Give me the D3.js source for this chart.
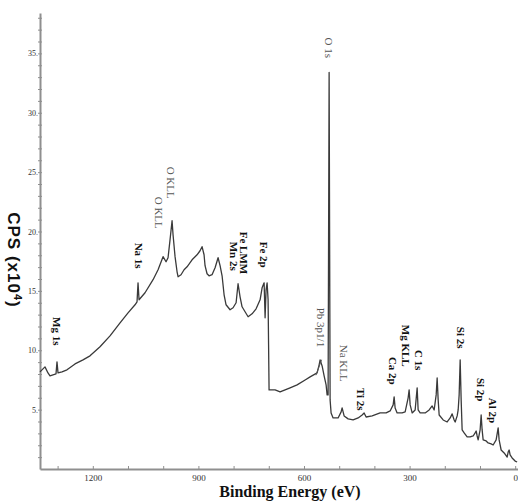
<!DOCTYPE html>
<html>
<head>
<meta charset="utf-8">
<script src="https://cdn.jsdelivr.net/npm/d3@7"></script>
<style>
  body { margin: 0; background: #fff; }
  svg { display: block; }
</style>
</head>
<body>
<script>
// XPS survey spectrum (CPS in units of 10^4)
const energy = [1350, 1341.5, 1335.8, 1327.3, 1321.6, 1313.1, 1304.5, 1301.7, 1298.8, 1287.5,
  1273.3, 1250.5, 1227.8, 1207.9, 1179.5, 1151.1, 1122.6, 1099.9, 1080, 1074.3,
  1071.5, 1068.6, 1051.6, 1028.8, 1014.6, 1000.4, 991.9, 986.2, 980.5, 974.8,
  972, 966.3, 960.6, 957.8, 949.3, 940.7, 932.2, 918, 903.8, 895.3,
  889.6, 883.9, 881.1, 875.4, 869.7, 861.2, 852.6, 844.1, 838.4, 832.7,
  827, 821.4, 810, 801.5, 792.9, 787.3, 781.6, 775.9, 767.4, 758.8,
  747.5, 736.1, 724.7, 719, 713.3, 710.5, 707.7, 704.8, 702, 700.6,
  699.2, 682.1, 667.9, 639.5, 619.6, 596.8, 582.6, 562.7, 557, 554.2,
  548.5, 542.8, 537.2, 534.3, 531.5, 528.6, 525.8, 523, 517.3, 503.1,
  494.5, 491.7, 486, 474.6, 460.4, 446.2, 434.8, 429.2, 423.5, 406.4,
  383.7, 366.6, 355.3, 346.7, 343.9, 341.1, 335.4, 321.2, 312.6, 304.1,
  301.3, 298.4, 292.7, 284.2, 278.5, 275.7, 270, 255.8, 244.4, 235.9,
  230.2, 224.5, 221.7, 218.8, 216, 204.6, 193.3, 184.7, 179.1, 173.4,
  170.5, 164.8, 162, 159.2, 156.3, 153.5, 150.7, 145, 136.5, 128,
  119.4, 113.8, 110.9, 108.1, 105.2, 99.6, 96.7, 93.9, 91, 82.5,
  76.8, 68.3, 62.6, 54.1, 48.4, 45.6, 39.9, 31.4, 22.8, 20,
  17.2, 14.4, 8.7, 0.2, -5.5];

const cps = [8.18, 8.43, 8.60, 8.09, 7.84, 7.93, 8.01, 9.02, 8.09, 8.18,
  8.35, 8.85, 9.19, 9.53, 10.29, 11.21, 12.31, 13.15, 13.83, 14.08,
  15.68, 14.25, 14.84, 15.94, 16.78, 17.88, 17.45, 17.79, 19.31, 20.91,
  19.73, 17.88, 16.61, 16.19, 16.36, 16.78, 17.03, 17.62, 18.04, 18.38,
  18.72, 18.04, 17.12, 16.44, 16.27, 16.36, 16.95, 17.79, 17.12, 16.27,
  14.67, 13.83, 13.41, 13.58, 14.00, 15.60, 14.50, 13.66, 13.24, 12.82,
  13.07, 13.49, 14.25, 15.26, 15.68, 12.73, 15.09, 15.68, 14.25, 10.46,
  6.66, 6.66, 6.49, 6.83, 7.08, 7.50, 7.76, 8.09, 8.77, 9.19,
  8.68, 7.84, 7.08, 6.24, 6.24, 33.39, 5.82, 4.72, 4.30, 4.30,
  4.81, 5.14, 4.47, 4.22, 4.13, 4.30, 4.55, 4.72, 4.38, 4.47,
  4.72, 4.72, 4.89, 5.40, 6.07, 5.14, 4.72, 4.72, 4.81, 5.99,
  6.66, 5.40, 4.72, 4.97, 6.83, 4.97, 4.72, 4.72, 4.97, 5.31,
  4.97, 6.24, 7.67, 5.82, 4.55, 4.13, 3.96, 4.30, 4.64, 4.13,
  3.96, 4.47, 4.97, 6.24, 9.19, 5.82, 3.29, 3.04, 2.70, 2.70,
  2.78, 3.04, 3.20, 2.78, 2.45, 3.29, 4.55, 3.29, 2.45, 2.36,
  2.19, 2.11, 2.02, 2.45, 3.46, 2.45, 1.60, 1.35, 1.01, 1.43,
  1.60, 1.18, 0.93, 0.67, 0.59];

const xTickLabels = [1200, 900, 600, 300, 0];
const yTickLabels = [5, 10, 15, 20, 25, 30, 35];

// peak labels: text, energy (eV), top of label (CPS x10^4), bold?
const peakNames = ["Mg 1s", "Na 1s", "O KLL", "O KLL", "Fe LMM", "Mn 2s", "Fe 2p", "O 1s",
  "Pb 3p1/1", "Na KLL", "Ti 2s", "Ca 2p", "Mg KLL", "C 1s", "Si 2s", "Si 2p", "Al 2p"];
const peakEnergy = [1304.5, 1071.5, 1014.6, 980.5, 773.1, 801.5, 716.2, 531.5,
  554.2, 488.9, 440.5, 349.6, 312.6, 275.7, 156.3, 99.6, 65.5];
const peakTop = [12.8, 19.06, 22.93, 25.46, 19.98, 19.14, 19.14, 36.34,
  13.58, 10.46, 6.83, 9.44, 12.14, 10.03, 11.97, 7.67, 5.99];
const peakBold = [1, 1, 0, 0, 1, 1, 1, 0, 0, 0, 1, 1, 1, 1, 1, 1, 1];

const width = 518, height = 502;
const margin = {left: 40, right: 0, top: 13, bottom: 33};

const svg = d3.select("body").append("svg")
  .attr("width", width)
  .attr("height", height);

const x = d3.scaleLinear().domain([1350, -8]).range([margin.left, width - margin.right]);
const y = d3.scaleLinear().domain([0, 38.4]).range([height - margin.bottom, margin.top]);

// y axis
const yAxis = svg.append("g")
  .attr("transform", "translate(" + margin.left + ",0)")
  .call(d3.axisLeft(y)
    .tickValues(d3.range(1, 39))
    .tickSizeInner(3).tickSizeOuter(0)
    .tickFormat(d => yTickLabels.includes(d) ? d + "." : ""));
yAxis.select(".domain").attr("stroke", "#8f8f8f").attr("stroke-width", 2);
yAxis.selectAll(".tick line").attr("stroke", "#8f8f8f").attr("x1", -2).attr("x2", 2);
yAxis.selectAll(".tick text")
  .attr("x", -2)
  .attr("font-family", "Liberation Serif, serif")
  .attr("font-size", 8)
  .attr("fill", "#333");

// x axis
const xAxis = svg.append("g")
  .attr("transform", "translate(0," + (height - margin.bottom) + ")")
  .call(d3.axisBottom(x)
    .tickValues(d3.range(1300, -1, -100))
    .tickSizeInner(-3).tickSizeOuter(0)
    .tickFormat(d => xTickLabels.includes(d) ? d : ""));
xAxis.select(".domain").attr("stroke", "#8f8f8f").attr("stroke-width", 2);
xAxis.selectAll(".tick line").attr("stroke", "#8f8f8f");
xAxis.selectAll(".tick text")
  .attr("y", 6)
  .attr("font-family", "Liberation Serif, serif")
  .attr("font-size", 9)
  .attr("fill", "#333");

// spectrum
const line = d3.line()
  .x((d, i) => x(energy[i]))
  .y(d => y(d));

svg.append("path")
  .datum(cps)
  .attr("fill", "none")
  .attr("stroke", "#3a3a3a")
  .attr("stroke-width", 1.3)
  .attr("stroke-linejoin", "round")
  .attr("d", line);

// peak labels, rotated to read top-down
svg.selectAll("text.peak")
  .data(peakNames)
  .enter().append("text")
  .attr("class", "peak")
  .attr("transform", (d, i) => "translate(" + (x(peakEnergy[i]) - 3.5) + "," + y(peakTop[i]) + ") rotate(90)")
  .attr("font-family", "Liberation Serif, serif")
  .attr("font-size", 11)
  .attr("font-weight", (d, i) => peakBold[i] ? "bold" : "normal")
  .attr("fill", (d, i) => peakBold[i] ? "#111" : "#555")
  .text(d => d);

// leader for the Pb label
svg.append("line")
  .attr("x1", x(550)).attr("y1", y(9.2))
  .attr("x2", x(566)).attr("y2", y(7.9))
  .attr("stroke", "#555").attr("stroke-width", 1);

// axis titles
svg.append("text")
  .attr("x", 290)
  .attr("y", 497)
  .attr("text-anchor", "middle")
  .attr("font-family", "Liberation Serif, serif")
  .attr("font-weight", "bold")
  .attr("font-size", 16)
  .attr("fill", "#111")
  .text("Binding Energy (eV)");

const yTitle = svg.append("text")
  .attr("transform", "translate(8,260) rotate(90)")
  .attr("text-anchor", "middle")
  .attr("font-family", "Liberation Sans, Arial, sans-serif")
  .attr("font-weight", "bold")
  .attr("font-size", 17)
  .attr("letter-spacing", 1)
  .attr("fill", "#111");
yTitle.append("tspan").text("CPS (x10");
yTitle.append("tspan").attr("baseline-shift", "super").attr("font-size", 11).text("4");
yTitle.append("tspan").text(")");
</script>
</body>
</html>
